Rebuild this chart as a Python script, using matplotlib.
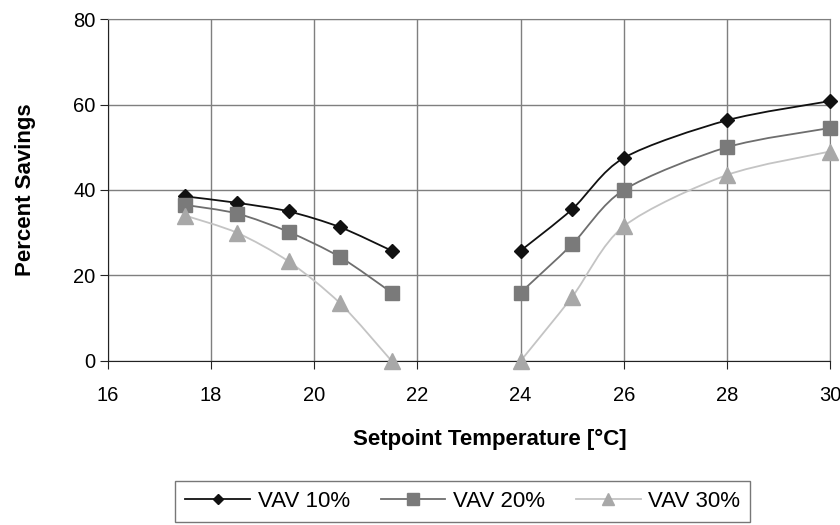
import numpy as np
import matplotlib.pyplot as plt
from matplotlib.path import Path
from matplotlib.patches import PathPatch
from matplotlib.lines import Line2D

plt.rcParams['font.family'] = ['Liberation Sans', 'DejaVu Sans']

# Setpoint temperatures (two groups: heating / cooling side)
temps_low = [17.5, 18.5, 19.5, 20.5, 21.5]
temps_high = [24, 25, 26, 28, 30]

vav10_low = [38.5, 37.0, 35.0, 31.3, 25.8]
vav10_high = [25.8, 35.5, 47.5, 56.3, 60.8]
vav20_low = [36.5, 34.5, 30.2, 24.3, 16.0]
vav20_high = [16.0, 27.3, 40.0, 50.0, 54.5]
vav30_low = [34.0, 30.0, 23.3, 13.5, 0.0]
vav30_high = [0.0, 15.0, 31.5, 43.5, 49.0]

labels = ['VAV 10%', 'VAV 20%', 'VAV 30%']
line_colors = ['#111111', '#6e6e6e', '#c4c4c4']
marker_colors = ['#111111', '#7a7a7a', '#a8a8a8']
markers = ['D', 's', '^']
msizes = [7, 10, 11]


def smooth_path(x, y, k=1 / 7.0):
    # bezier through the points, like a spreadsheet "smoothed line"
    pts = np.column_stack([x, y]).astype(float)
    n = len(pts)
    verts = [pts[0]]
    codes = [Path.MOVETO]
    for i in range(n - 1):
        p0 = pts[i - 1] if i > 0 else pts[i]
        p1 = pts[i]
        p2 = pts[i + 1]
        p3 = pts[i + 2] if i + 2 < n else pts[i + 1]
        c1 = p1 + (p2 - p0) * k
        c2 = p2 - (p3 - p1) * k
        verts += [c1, c2, p2]
        codes += [Path.CURVE4] * 3
    return Path(verts, codes)


fig = plt.figure(figsize=(8.4, 5.25), dpi=100)
ax = fig.add_axes([0.1286, 0.3124, 0.8595, 0.6514])

series = [(vav10_low, vav10_high), (vav20_low, vav20_high), (vav30_low, vav30_high)]
for k, (lo, hi) in enumerate(series):
    for xs, ys in [(temps_low, lo), (temps_high, hi)]:
        ax.add_patch(PathPatch(smooth_path(xs, ys), fill=False,
                               edgecolor=line_colors[k], lw=1.3, zorder=3))
        ax.plot(xs, ys, linestyle='none', marker=markers[k], ms=msizes[k],
                color=marker_colors[k], mec=marker_colors[k], zorder=4,
                clip_on=False)

ax.set_xlim(16, 30)
ax.set_ylim(0, 80)
ax.set_xticks([16, 18, 20, 22, 24, 26, 28, 30])
ax.set_yticks([0, 20, 40, 60, 80])
ax.grid(True, color='#7f7f7f', lw=1.0)
ax.set_axisbelow(True)
for s in ['top', 'right']:
    ax.spines[s].set_color('#7f7f7f')
for s in ['left', 'bottom']:
    ax.spines[s].set_color('#222222')
ax.tick_params(labelsize=14.5, length=6, color='#222222')
ax.tick_params(axis='x', pad=12)
ax.tick_params(axis='y', pad=3)

ax.set_xlabel('Setpoint Temperature [°C]', fontsize=16, fontweight='bold')
ax.xaxis.set_label_coords(0.529, -0.2)
ax.set_ylabel('Percent Savings', fontsize=16, fontweight='bold')
ax.yaxis.set_label_coords(-0.1, 0.5)

handles = [Line2D([0], [0], color=line_colors[k], lw=1.3, marker=markers[k],
                  ms=msizes[k] * 0.8, mfc=marker_colors[k], mec=marker_colors[k])
           for k in range(3)]
leg = fig.legend(handles, labels, loc='upper center', bbox_to_anchor=(0.551, 0.084),
                 ncol=3, fontsize=16, frameon=True, fancybox=False,
                 handlelength=2.9, columnspacing=1.4, handletextpad=0.35,
                 borderpad=0.45, borderaxespad=0)
leg.get_frame().set_edgecolor('#555555')
leg.get_frame().set_linewidth(1.0)

fig.savefig('out.png', dpi=100)
